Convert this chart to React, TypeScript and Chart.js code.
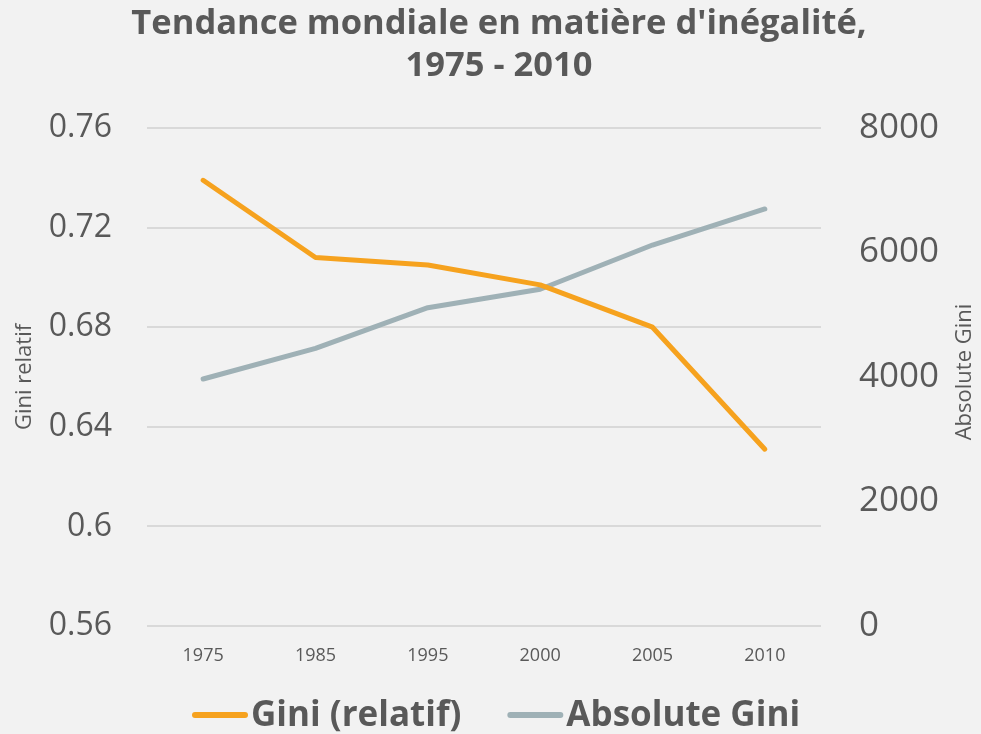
import React, { useEffect, useRef } from "react";
import { Chart, registerables } from "chart.js";

Chart.register(...registerables);

const categories = ["1975", "1985", "1995", "2000", "2005", "2010"];
const giniRelatif = [0.739, 0.708, 0.705, 0.697, 0.68, 0.631];
const giniAbsolute = [3968, 4461, 5113, 5409, 6120, 6699];
const titleLines = ["Tendance mondiale en matière d'inégalité,", "1975 - 2010"];
const seriesNames = ["Gini (relatif)", "Absolute Gini"];
const leftAxisTitle = "Gini relatif";
const rightAxisTitle = "Absolute Gini";

const ORANGE = "#F6A21E";
const GREY = "#9FB1B6";
const TEXT = "#595959";
const FONT = "'Open Sans', Lato, sans-serif";

export default function App() {
  const ref = useRef<HTMLCanvasElement | null>(null);

  useEffect(() => {
    document.body.style.margin = "0";
    document.body.style.background = "#f2f2f2";
    const canvas = ref.current;
    if (!canvas) return;

    const extras = {
      id: "extras",
      beforeDraw(chart: any) {
        const { ctx } = chart;
        ctx.save();
        ctx.fillStyle = "#f2f2f2";
        ctx.fillRect(0, 0, chart.width, chart.height);
        ctx.restore();
      },
      afterDraw(chart: any) {
        const { ctx, chartArea } = chart;

        // title
        ctx.save();
        ctx.font = `bold 34.5px ${FONT}`;
        ctx.fillStyle = TEXT;
        ctx.textAlign = "center";
        ctx.textBaseline = "alphabetic";
        ctx.fillText(titleLines[0], 499, 34);
        ctx.fillText(titleLines[1], 499, 76);
        ctx.restore();

        // right axis title (reads bottom to top)
        ctx.save();
        const midY = (chartArea.top + chartArea.bottom) / 2 - 5;
        ctx.translate(965, midY);
        ctx.rotate(-Math.PI / 2);
        ctx.font = `22px ${FONT}`;
        ctx.fillStyle = TEXT;
        ctx.textAlign = "center";
        ctx.textBaseline = "middle";
        ctx.fillText(rightAxisTitle, 0, 0);
        ctx.restore();

        // legend
        ctx.save();
        ctx.font = `bold 35px ${FONT}`;
        ctx.textBaseline = "alphabetic";
        ctx.textAlign = "left";
        const lineLen = 56;
        const gap = 3;
        const spacing = 46;
        const colors = [ORANGE, GREY];
        let x = 192;
        const lineY = 715;
        const textY = 726;
        seriesNames.forEach((name, i) => {
          ctx.strokeStyle = colors[i];
          ctx.lineWidth = 6;
          ctx.lineCap = "round";
          ctx.beginPath();
          ctx.moveTo(x + 3, lineY);
          ctx.lineTo(x + lineLen - 3, lineY);
          ctx.stroke();
          ctx.fillStyle = TEXT;
          const tx = x + lineLen + gap;
          ctx.fillText(name, tx, textY);
          x = tx + ctx.measureText(name).width + spacing;
        });
        ctx.restore();
      },
    };

    const chart = new Chart(canvas, {
      type: "line",
      data: {
        labels: categories,
        datasets: [
          {
            label: seriesNames[0],
            data: giniRelatif,
            borderColor: ORANGE,
            backgroundColor: ORANGE,
            borderWidth: 5,
            pointRadius: 0,
            borderCapStyle: "round",
            borderJoinStyle: "round",
            yAxisID: "y",
          },
          {
            label: seriesNames[1],
            data: giniAbsolute,
            borderColor: GREY,
            backgroundColor: GREY,
            borderWidth: 5,
            pointRadius: 0,
            borderCapStyle: "round",
            borderJoinStyle: "round",
            yAxisID: "y1",
          },
        ],
      },
      options: {
        responsive: false,
        animation: false,
        layout: { padding: { left: 0, right: 0, top: 128, bottom: 58 } },
        plugins: {
          legend: { display: false },
          tooltip: { enabled: false },
          title: { display: false },
        },
        scales: {
          x: {
            offset: true,
            grid: { display: false, drawTicks: false },
            border: { display: false },
            ticks: { color: TEXT, font: { family: FONT, size: 18 }, padding: 19 },
            afterFit(scale: any) {
              scale.height = 50;
            },
          },
          y: {
            position: "left",
            min: 0.56,
            max: 0.76,
            ticks: {
              stepSize: 0.04,
              color: TEXT,
              font: { family: FONT, size: 32 },
              padding: 35,
              callback: (v: any) => String(Math.round(Number(v) * 100) / 100),
            },
            grid: { color: "#d9d9d9", lineWidth: 2, drawTicks: false },
            border: { display: false },
            title: {
              display: true,
              text: leftAxisTitle,
              color: TEXT,
              font: { family: FONT, size: 22 },
              padding: { top: 12, bottom: 0 },
            },
            afterFit(scale: any) {
              scale.width = 147;
            },
          },
          y1: {
            position: "right",
            min: 0,
            max: 8000,
            ticks: {
              stepSize: 2000,
              color: TEXT,
              font: { family: FONT, size: 35 },
              padding: 38,
              callback: (v: any) => String(v),
            },
            grid: { display: false, drawTicks: false },
            border: { display: false },
            afterFit(scale: any) {
              scale.width = 160;
            },
          },
        },
      },
      plugins: [extras],
    } as any);

    return () => chart.destroy();
  }, []);

  return (
    <div style={{ width: 981, height: 734, background: "#f2f2f2" }}>
      <canvas ref={ref} width={981} height={734} />
    </div>
  );
}
